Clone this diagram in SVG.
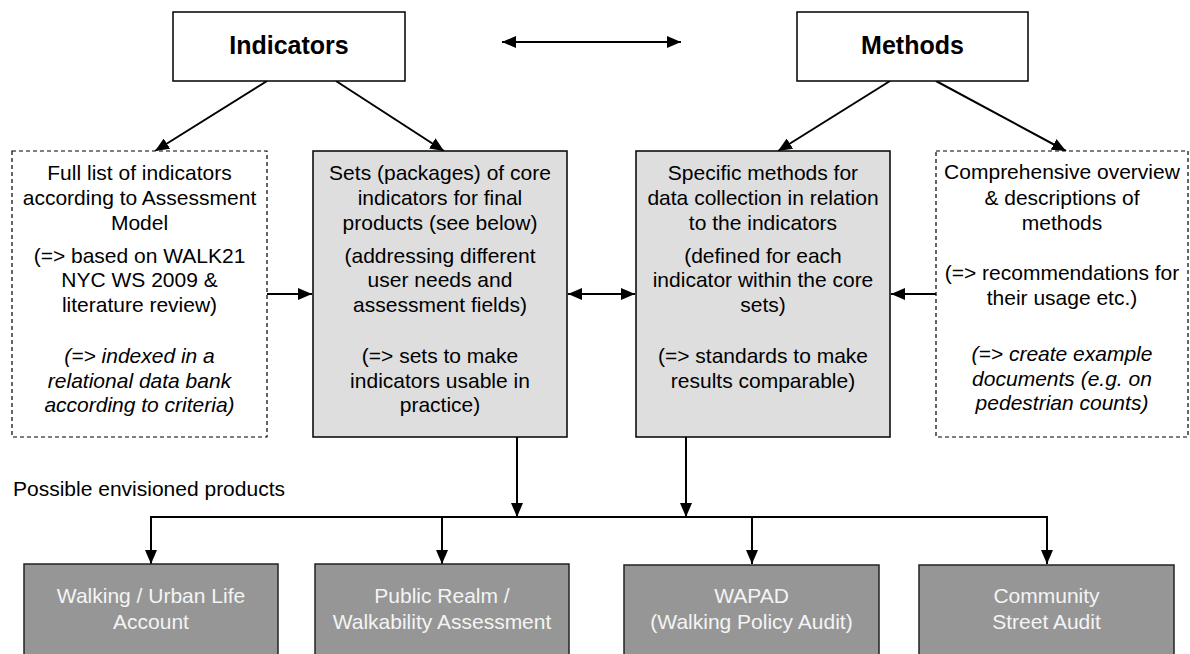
<svg xmlns="http://www.w3.org/2000/svg" width="1190" height="654" viewBox="0 0 1190 654">
<defs>
<marker id="ah" viewBox="0 0 14 12" refX="14" refY="6" markerWidth="14" markerHeight="12" markerUnits="userSpaceOnUse" orient="auto-start-reverse">
<path d="M0,0 L14,6 L0,12 Z" fill="#000"/>
</marker>
<style>
text{font-family:"Liberation Sans",Arial,sans-serif;font-size:21px;fill:#000;text-anchor:middle}
.title{font-size:25px;font-weight:bold}
.it{font-style:italic}
.top{fill:#fff;stroke:#000;stroke-width:1.5}
.dash{fill:#fff;stroke:#000;stroke-width:1.2;stroke-dasharray:4 3}
.core{fill:#dedede;stroke:#000;stroke-width:1.5}
.prod rect{fill:#969696;stroke:#222;stroke-width:1.5}
.prod text{fill:#f4f4f4}
.conn{fill:none;stroke:#000;stroke-width:2}
</style>
</defs>
<rect width="1190" height="654" fill="#fff"/>

<g id="conns">
<line class="conn" x1="502" y1="42" x2="681" y2="42" marker-start="url(#ah)" marker-end="url(#ah)"/>
<line class="conn" x1="267" y1="81" x2="155" y2="151" marker-end="url(#ah)"/>
<line class="conn" x1="336" y1="81" x2="444" y2="151" marker-end="url(#ah)"/>
<line class="conn" x1="890" y1="81" x2="778" y2="151" marker-end="url(#ah)"/>
<line class="conn" x1="936" y1="81" x2="1066" y2="151" marker-end="url(#ah)"/>
<line class="conn" x1="267" y1="294" x2="312" y2="294" marker-end="url(#ah)"/>
<line class="conn" x1="568" y1="294" x2="635" y2="294" marker-start="url(#ah)" marker-end="url(#ah)"/>
<line class="conn" x1="936" y1="294" x2="891" y2="294" marker-end="url(#ah)"/>
<line class="conn" x1="517" y1="437" x2="517" y2="517" marker-end="url(#ah)"/>
<line class="conn" x1="686" y1="437" x2="686" y2="517" marker-end="url(#ah)"/>
<polyline class="conn" points="151,564 151,517 1047,517 1047,564" marker-start="url(#ah)" marker-end="url(#ah)"/>
<line class="conn" x1="442" y1="517" x2="442" y2="564" marker-end="url(#ah)"/>
<line class="conn" x1="752" y1="517" x2="752" y2="564" marker-end="url(#ah)"/>
</g>

<g id="indicators">
<rect class="top" x="173" y="12" width="232" height="69"/>
<text class="title" x="289" y="54">Indicators</text>
</g>

<g id="methods">
<rect class="top" x="797" y="12" width="231" height="69"/>
<text class="title" x="912.5" y="54">Methods</text>
</g>

<g id="full-list">
<rect class="dash" x="12" y="151" width="255" height="286"/>
<text x="139.5" y="180">Full list of indicators</text>
<text x="139.5" y="205">according to Assessment</text>
<text x="139.5" y="230">Model</text>
<text x="139.5" y="263">(=&gt; based on WALK21</text>
<text x="139.5" y="287">NYC WS 2009 &amp;</text>
<text x="139.5" y="312">literature review)</text>
<text class="it" x="139.5" y="363">(=&gt; indexed in a</text>
<text class="it" x="139.5" y="388">relational data bank</text>
<text class="it" x="139.5" y="412">according to criteria)</text>
</g>

<g id="core-sets">
<rect class="core" x="313" y="151" width="254" height="286"/>
<text x="440" y="180">Sets (packages) of core</text>
<text x="440" y="205">indicators for final</text>
<text x="440" y="230">products (see below)</text>
<text x="440" y="263">(addressing different</text>
<text x="440" y="287">user needs and</text>
<text x="440" y="312">assessment fields)</text>
<text x="440" y="363">(=&gt; sets to make</text>
<text x="440" y="388">indicators usable in</text>
<text x="440" y="412">practice)</text>
</g>

<g id="specific-methods">
<rect class="core" x="636" y="151" width="254" height="286"/>
<text x="763" y="180">Specific methods for</text>
<text x="763" y="205">data collection in relation</text>
<text x="763" y="230">to the indicators</text>
<text x="763" y="263">(defined for each</text>
<text x="763" y="287">indicator within the core</text>
<text x="763" y="312">sets)</text>
<text x="763" y="363">(=&gt; standards to make</text>
<text x="763" y="388">results comparable)</text>
</g>

<g id="overview">
<rect class="dash" x="936" y="151" width="252" height="286"/>
<text x="1062" y="179">Comprehensive overview</text>
<text x="1062" y="205">&amp; descriptions of</text>
<text x="1062" y="230">methods</text>
<text x="1062" y="280">(=&gt; recommendations for</text>
<text x="1062" y="305">their usage etc.)</text>
<text class="it" x="1062" y="361">(=&gt; create example</text>
<text class="it" x="1062" y="386">documents (e.g. on</text>
<text class="it" x="1062" y="410">pedestrian counts)</text>
</g>

<g id="products-label">
<text x="13" y="496" style="text-anchor:start">Possible envisioned products</text>
</g>

<g id="walking-account" class="prod">
<rect x="24" y="564" width="254" height="100"/>
<text x="151" y="603">Walking / Urban Life</text>
<text x="151" y="629">Account</text>
</g>

<g id="public-realm" class="prod">
<rect x="315" y="564" width="254" height="100"/>
<text x="442" y="603">Public Realm /</text>
<text x="442" y="629">Walkability Assessment</text>
</g>

<g id="wapad" class="prod">
<rect x="624" y="565" width="255" height="100"/>
<text x="751.5" y="603">WAPAD</text>
<text x="751.5" y="629">(Walking Policy Audit)</text>
</g>

<g id="community" class="prod">
<rect x="919" y="565" width="255" height="100"/>
<text x="1046.5" y="603">Community</text>
<text x="1046.5" y="629">Street Audit</text>
</g>
</svg>
